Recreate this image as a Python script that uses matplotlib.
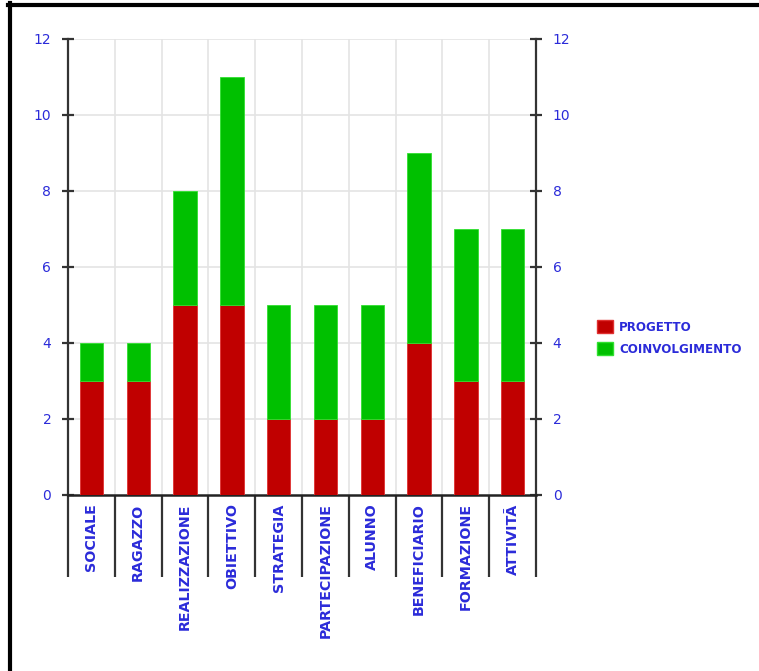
import matplotlib
matplotlib.use("Agg")
import matplotlib.pyplot as plt
import numpy as np
from matplotlib.lines import Line2D
from matplotlib.patches import Patch

categories = ["SOCIALE", "RAGAZZO", "REALIZZAZIONE", "OBIETTIVO", "STRATEGIA",
              "PARTECIPAZIONE", "ALUNNO", "BENEFICIARIO", "FORMAZIONE", "ATTIVITÃ"]
progetto = [3, 3, 5, 5, 2, 2, 2, 4, 3, 3]
coinvolgimento = [1, 1, 3, 6, 3, 3, 3, 5, 4, 4]
series_names = ["PROGETTO", "COINVOLGIMENTO"]
y_ticks = [0, 2, 4, 6, 8, 10, 12]

RED = "#c00000"
GREEN = "#00c000"
BLUE = "#2b2bd9"
AXIS = "#333333"
GRID = "#e4e4e4"

W, H = 759, 671
fig = plt.figure(figsize=(W / 100, H / 100), dpi=100)
fig.patch.set_facecolor("white")

x0, x1, y0, y1 = 68, 536, 495, 39
ax = fig.add_axes([x0 / W, 1 - y0 / H, (x1 - x0) / W, (y0 - y1) / H])

n = len(categories)
x = np.arange(n)
ax.bar(x, progetto, width=0.5, color=RED, edgecolor="#e03030", linewidth=0.6, zorder=3)
ax.bar(x, coinvolgimento, bottom=progetto, width=0.5, color=GREEN,
       edgecolor="#30e030", linewidth=0.6, zorder=3)

ax.set_xlim(-0.5, n - 0.5)
ax.set_ylim(0, 12)

# grid lines at category boundaries and y ticks
bounds = np.arange(n + 1) - 0.5
for b in bounds[1:-1]:
    ax.axvline(b, color=GRID, lw=1.2, zorder=1)
for yt in y_ticks[1:]:
    ax.axhline(yt, color=GRID, lw=1.2, zorder=1)

ax.spines["top"].set_visible(False)
for s in ["left", "right"]:
    ax.spines[s].set_color(AXIS)
    ax.spines[s].set_linewidth(1.6)
ax.spines["bottom"].set_color("#222222")
ax.spines["bottom"].set_linewidth(1.8)

ax.set_yticks(y_ticks)
ax.set_yticklabels([str(v) for v in y_ticks])
ax.tick_params(axis="y", which="major", direction="inout", length=8, width=1.6,
               color=AXIS, labelcolor=BLUE, labelsize=10, pad=8,
               left=True, right=True, labelleft=True, labelright=True)

# category labels at centres, separator ticks at boundaries
ax.set_xticks(x)
ax.set_xticklabels(categories, rotation=90, fontweight="bold", color=BLUE,
                   fontsize=10.3, va="top")
ax.tick_params(axis="x", which="major", length=0, pad=6)
ax.set_xticks(bounds, minor=True)
ax.tick_params(axis="x", which="minor", direction="out", length=59, width=1.6,
               color=AXIS)

legend_handles = [Patch(facecolor=RED, edgecolor="#e03030"),
                  Patch(facecolor=GREEN, edgecolor="#30e030")]
leg = fig.legend(legend_handles, series_names, loc="center left",
                 bbox_to_anchor=(597 / W, 1 - 338 / H), frameon=False,
                 prop={"size": 8.6, "weight": "bold"},
                 handlelength=1.3, handleheight=1.3,
                 handletextpad=0.55, labelspacing=0.75, borderaxespad=0,
                 borderpad=0)
for t in leg.get_texts():
    t.set_color(BLUE)

# outer frame
fig.add_artist(Line2D([9.5 / W, 9.5 / W], [0, 1 - 3 / H], color="black", lw=3,
                      transform=fig.transFigure))
fig.add_artist(Line2D([8 / W, 1], [1 - 4.5 / H, 1 - 4.5 / H], color="black", lw=3,
                      transform=fig.transFigure))

fig.savefig("out.png", dpi=100, facecolor="white")
